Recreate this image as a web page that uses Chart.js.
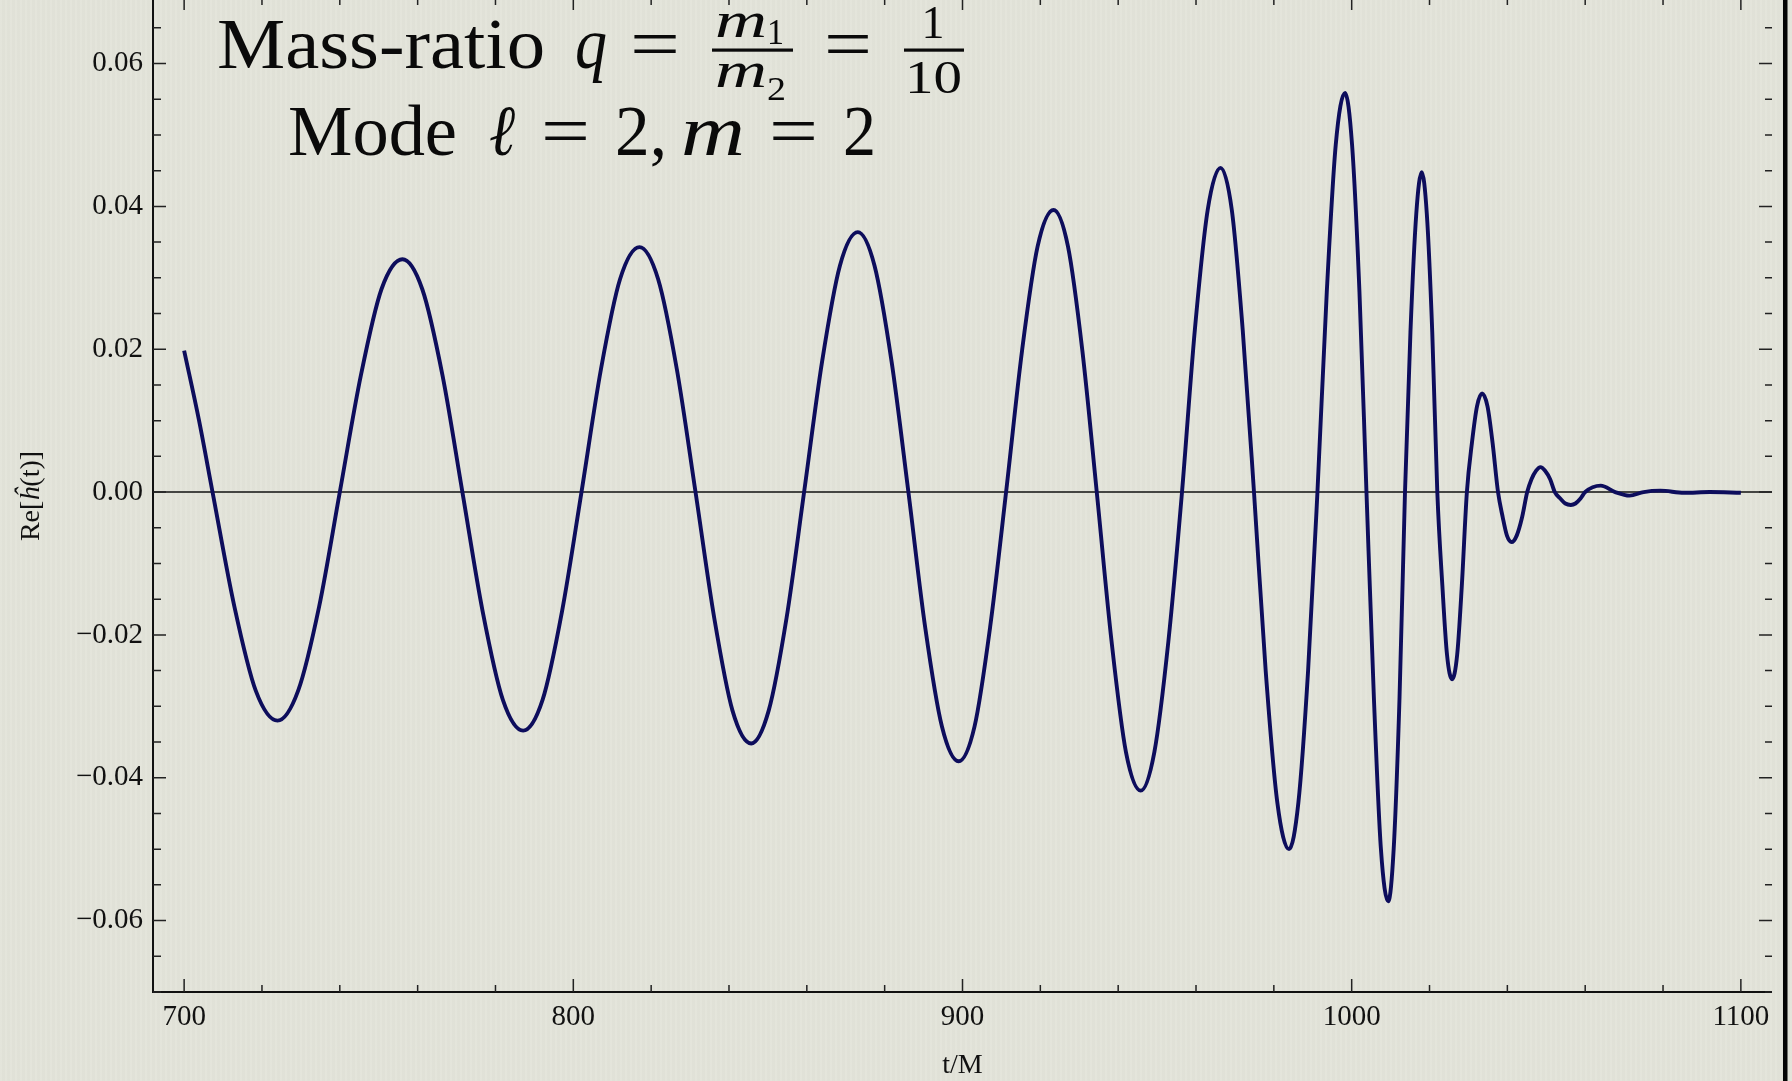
<!DOCTYPE html>
<html><head><meta charset="utf-8">
<script src="https://cdn.jsdelivr.net/npm/chart.js@4"></script>
<style>
html,body{margin:0;padding:0;}
body{width:1792px;height:1081px;overflow:hidden;background-color:#e2e3d9;
background-image:repeating-linear-gradient(90deg, rgba(255,255,255,0.06) 0px, rgba(255,255,255,0.06) 2px, rgba(0,0,0,0.008) 2px, rgba(0,0,0,0.008) 5px);}
canvas{display:block;}
</style></head><body>
<canvas id="c" width="1792" height="1081"></canvas>
<script>
// ---- data ----
const timeValues = [700.0,703.8,707.3,712.9,718.4,724.0,729.3,734.7,740.0,745.4,750.7,756.1,761.2,766.4,771.5,776.7,781.9,787.1,792.1,797.1,802.1,807.1,812.0,817.0,821.8,826.6,831.4,836.2,840.9,845.7,850.2,854.8,859.3,863.9,868.5,873.1,877.4,881.8,886.1,890.4,894.7,899.0,903.1,907.1,911.2,915.3,919.3,923.4,927.1,930.8,934.5,938.3,942.0,945.8,949.3,952.9,956.4,959.7,963.0,966.3,969.2,972.0,974.9,977.9,980.9,983.9,986.3,988.8,991.2,993.6,995.9,998.3,1000.1,1002.0,1003.8,1005.7,1007.5,1009.4,1010.8,1012.3,1013.7,1015.1,1016.6,1018.0,1019.3,1020.7,1022.0,1023.3,1024.5,1025.8,1027.1,1028.3,1029.6,1030.9,1032.2,1033.5,1034.9,1036.2,1037.6,1038.8,1039.9,1041.1,1042.4,1043.8,1045.1,1046.2,1047.4,1048.5,1049.7,1051.0,1052.2,1053.6,1054.9,1056.3,1057.5,1058.8,1060.0,1064.0,1067.7,1071.4,1075.0,1079.3,1085.4,1092.0,1100.0];
const reValues = [0.0198,0.0101,0,-0.0160,-0.0278,-0.0320,-0.0278,-0.0160,0,0.0163,0.0284,0.0326,0.0284,0.0163,0,-0.0167,-0.0291,-0.0334,-0.0291,-0.0167,0,0.0172,0.0298,0.0343,0.0298,0.0172,0,-0.0176,-0.0306,-0.0352,-0.0306,-0.0176,0,0.0182,0.0317,0.0364,0.0317,0.0182,0,-0.0189,-0.0328,-0.0377,-0.0328,-0.0189,0,0.0198,0.0344,0.0395,0.0344,0.0198,0,-0.0209,-0.0364,-0.0418,-0.0364,-0.0209,0,0.0227,0.0395,0.0454,0.0395,0.0227,0,-0.0250,-0.0435,-0.0500,-0.0435,-0.0250,0,0.0280,0.0486,0.0559,0.0486,0.0280,0,-0.0287,-0.0499,-0.0573,-0.0499,-0.0287,0,0.0224,0.0390,0.0448,0.0390,0.0224,0,-0.0131,-0.0228,-0.0262,-0.0228,-0.0131,0,0.0069,0.0120,0.0138,0.0120,0.0069,0,-0.0035,-0.0061,-0.0070,-0.0061,-0.0035,0,0.0018,0.0030,0.0035,0.0030,0.0018,0,-0.0009,-0.0016,-0.0018,-0.0016,-0.0009,0,0.0009,0,-0.0005,0,0.0002,-0.0001,0.0000,-0.0001];
const xMajorTicks = [700, 800, 900, 1000, 1100];
const xTickLabels = ['700', '800', '900', '1000', '1100'];
const yMajorTicks = [-0.06, -0.04, -0.02, 0, 0.02, 0.04, 0.06];
const yTickLabels = ['\u22120.06', '\u22120.04', '\u22120.02', '0.00', '0.02', '0.04', '0.06'];
const xMinorStep = 20;
const yMinorStep = 0.005;
const xRange = [692, 1108];
const yRange = [-0.07, 0.0689];
const xAxisTitle = 't/M';

// ---- helpers ----
const SERIF = "'Liberation Serif','DejaVu Serif','Times New Roman',serif";
function majorIndex(v, arr){ for(let i=0;i<arr.length;i++){ if(Math.abs(arr[i]-v)<1e-9) return i; } return -1; }
const xTickValues = [];
for(let v=xMajorTicks[0]; v<=xMajorTicks[xMajorTicks.length-1]+1e-9; v+=xMinorStep) xTickValues.push(v);
const yTickValues = [];
for(let i=Math.ceil(yRange[0]/yMinorStep-1e-9); i*yMinorStep<=yRange[1]+1e-12; i++) yTickValues.push(+(i*yMinorStep).toFixed(4));

const points = timeValues.map((t,i)=>({x:t, y:reValues[i]}));

function drawPieces(ctx, pieces){
  pieces.forEach(p=>{
    ctx.font = (p.italic?'italic ':'') + p.size + 'px ' + SERIF;
    const mw = ctx.measureText(p.t).width;
    const w = p.w || mw;
    let x = p.center ? p.x - w/2 : p.x;
    ctx.save();
    ctx.translate(x, p.y);
    ctx.scale(w/mw, 1);
    ctx.fillText(p.t, 0, 0);
    ctx.restore();
  });
}

const decorations = {
  id:'decorations',
  afterDraw(chart){
    const ctx = chart.ctx, a = chart.chartArea, xs = chart.scales.x, ys = chart.scales.y;
    ctx.save();
    // frame lines
    ctx.strokeStyle = '#111'; ctx.lineWidth = 2;
    ctx.beginPath(); ctx.moveTo(a.left, 0); ctx.lineTo(a.left, a.bottom); ctx.lineTo(a.right, a.bottom); ctx.stroke();
    // ticks (inward)
    ctx.strokeStyle = '#222'; ctx.lineWidth = 1.5;
    ctx.beginPath();
    xs.ticks.forEach(t=>{
      const px = xs.getPixelForValue(t.value);
      const major = majorIndex(t.value, xMajorTicks) >= 0;
      ctx.moveTo(px, a.bottom); ctx.lineTo(px, a.bottom - (major?13:7));
      ctx.moveTo(px, a.top); ctx.lineTo(px, a.top + (major?10:5));
    });
    ys.ticks.forEach(t=>{
      const py = ys.getPixelForValue(t.value);
      const major = majorIndex(t.value, yMajorTicks) >= 0;
      ctx.moveTo(a.left, py); ctx.lineTo(a.left + (major?13:8), py);
      ctx.moveTo(a.right, py); ctx.lineTo(a.right - (major?13:7), py);
    });
    ctx.stroke();
    // right slide border
    ctx.fillStyle = '#050505';
    ctx.fillRect(a.right + 11, 0, 4.5, chart.height);

    // axis titles
    ctx.fillStyle = '#111';
    ctx.textBaseline = 'middle';
    ctx.font = '28px ' + SERIF;
    ctx.textAlign = 'center';
    ctx.fillText(xAxisTitle, (a.left + a.right)/2, 1066);
    ctx.textAlign = 'left';
    ctx.save();
    ctx.translate(32, (a.top + a.bottom)/2);
    ctx.rotate(-Math.PI/2);
    const yt = [{t:'Re[', it:false},{t:'\u0125', it:true},{t:'(t)]', it:false}];
    let tw = 0;
    yt.forEach(p=>{ ctx.font = (p.it?'italic ':'') + '28px ' + SERIF; p.w = ctx.measureText(p.t).width; tw += p.w; });
    let cx = -tw/2;
    yt.forEach(p=>{ ctx.font = (p.it?'italic ':'') + '28px ' + SERIF; ctx.fillText(p.t, cx, 0); cx += p.w; });
    ctx.restore();

    // big annotation
    ctx.fillStyle = '#0a0a0a';
    ctx.textBaseline = 'alphabetic';
    ctx.textAlign = 'left';
    drawPieces(ctx, [
      {t:'Mass-ratio', size:72, x:217, y:68, w:328},
      {t:'q', size:72, italic:true, x:575, y:68, w:32},
      {t:'=', size:72, x:630, y:68, w:50},
      {t:'m', size:50, italic:true, x:715, y:37, w:52},
      {t:'1', size:36, x:767, y:44, w:17},
      {t:'m', size:50, italic:true, x:715, y:87, w:52},
      {t:'2', size:34, x:767, y:100, w:19},
      {t:'=', size:72, x:824, y:68, w:48},
      {t:'1', size:46, x:933, y:38, center:true},
      {t:'10', size:46, x:905, y:93, w:57},
      {t:'Mode', size:72, x:288, y:155, w:169},
      {t:'\u2113', size:72, italic:true, x:489, y:155, w:26},
      {t:'=', size:72, x:541, y:155, w:49},
      {t:'2,', size:72, x:615, y:155, w:52},
      {t:'m', size:72, italic:true, x:681, y:155, w:64},
      {t:'=', size:72, x:769, y:155, w:49},
      {t:'2', size:72, x:843, y:155, w:33}
    ]);
    ctx.fillRect(712, 48.5, 81, 3.2);
    ctx.fillRect(904, 48.5, 60, 3.2);
    ctx.restore();
  }
};

new Chart(document.getElementById('c'), {
  type:'scatter',
  data:{ datasets:[
    { data: points, showLine:true, pointRadius:0, borderColor:'#0d0d5c', borderWidth:3.9, cubicInterpolationMode:'monotone', fill:false },
    { data: [{x:xRange[0], y:0},{x:xRange[1], y:0}], showLine:true, pointRadius:0, borderColor:'#111', borderWidth:1.4, fill:false }
  ]},
  options:{
    responsive:false, animation:false, devicePixelRatio:1,
    layout:{ padding:{left:0, right:20, top:0, bottom:0} },
    plugins:{ legend:{display:false}, tooltip:{enabled:false}, title:{display:false} },
    scales:{
      x:{ type:'linear', min:xRange[0], max:xRange[1],
          grid:{display:false, drawTicks:false}, border:{display:false},
          afterBuildTicks: s=>{ s.ticks = xTickValues.map(v=>({value:v})); },
          ticks:{ autoSkip:false, maxRotation:0, minRotation:0, padding:8, color:'#111',
                  font:{family:SERIF, size:29},
                  callback:(v)=>{ const i = majorIndex(v, xMajorTicks); return i>=0 ? xTickLabels[i] : ''; } },
          afterFit: s=>{ s.height = 89; s.paddingLeft = 0; s.paddingRight = 0; } },
      y:{ type:'linear', min:yRange[0], max:yRange[1],
          grid:{display:false, drawTicks:false}, border:{display:false},
          afterBuildTicks: s=>{ s.ticks = yTickValues.map(v=>({value:v})); },
          ticks:{ autoSkip:false, padding:10, color:'#111',
                  font:{family:SERIF, size:29},
                  callback:(v)=>{ const i = majorIndex(v, yMajorTicks); return i>=0 ? yTickLabels[i] : ''; } },
          afterFit: s=>{ s.width = 153; s.paddingTop = 0; s.paddingBottom = 0; } }
    }
  },
  plugins:[decorations]
});
</script>
</body></html>
